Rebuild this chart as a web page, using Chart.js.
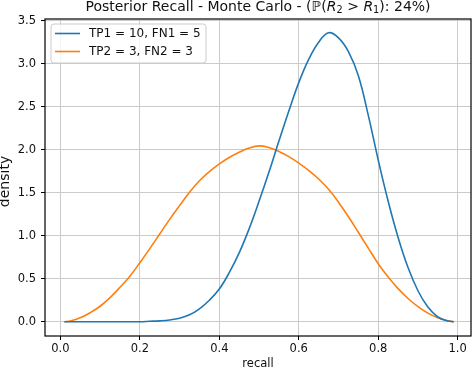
<!DOCTYPE html>
<html><head><meta charset="utf-8">
<script src="https://cdn.jsdelivr.net/npm/chart.js@4/dist/chart.umd.min.js"></script>
<style>html,body{margin:0;padding:0;background:#fff;overflow:hidden}#wrap{width:474px;height:370px;position:relative}</style>
</head><body><div id="wrap"><canvas id="c" width="474" height="370"></canvas></div>
<script>
// ---- data ----
const recall = [0.01,0.025,0.05,0.075,0.10,0.125,0.15,0.175,0.20,0.225,0.25,0.275,0.30,0.325,0.35,0.375,0.40,0.425,0.45,0.475,0.50,0.525,0.55,0.575,0.60,0.625,0.65,0.675,0.70,0.725,0.75,0.775,0.80,0.825,0.85,0.875,0.90,0.925,0.95,0.975,0.99];
const densityTP1 = [0,0,0,0,0,0,0,0,0,0.005,0.01,0.02,0.04,0.08,0.15,0.25,0.38,0.57,0.80,1.08,1.40,1.74,2.10,2.45,2.78,3.05,3.25,3.36,3.30,3.14,2.86,2.40,1.88,1.40,0.98,0.63,0.36,0.17,0.055,0.008,0];
const densityTP2 = [0,0.008,0.045,0.105,0.18,0.28,0.40,0.53,0.685,0.85,1.02,1.19,1.35,1.505,1.64,1.745,1.835,1.91,1.97,2.02,2.045,2.025,1.98,1.92,1.845,1.76,1.66,1.54,1.39,1.22,1.04,0.855,0.675,0.52,0.385,0.27,0.175,0.10,0.045,0.012,0];
const seriesLabels = ['TP1 = 10, FN1 = 5', 'TP2 = 3, FN2 = 3'];
const seriesColors = ['#1f77b4', '#ff7f0e'];
const xTicks = [0.0,0.2,0.4,0.6,0.8,1.0];
const yTicks = [0.0,0.5,1.0,1.5,2.0,2.5,3.0,3.5];
const xLabel = 'recall';
const yLabel = 'density';
// title pieces: [text, style] style: n=normal, i=italic, s=subscript
const titleParts = [['Posterior Recall - Monte Carlo - (','n'],['\u2119','n'],['(','n'],['R','i'],['2','s'],[' > ','n'],['R','i'],['1','s'],['): 24%)','n']];

const FONT = "'DejaVu Sans', sans-serif";

const framePlugin = {
  id: 'frame',
  afterDraw(chart) {
    const {ctx, chartArea: a} = chart;
    ctx.save();
    ctx.strokeStyle = '#000';
    ctx.lineWidth = 1.2;
    ctx.strokeRect(a.left, a.top, a.right - a.left, a.bottom - a.top);

    // legend
    const lx = a.left + 6, ly = a.top + 5, lw = 155, lh = 39, r = 3;
    ctx.beginPath();
    ctx.moveTo(lx + r, ly);
    ctx.arcTo(lx + lw, ly, lx + lw, ly + lh, r);
    ctx.arcTo(lx + lw, ly + lh, lx, ly + lh, r);
    ctx.arcTo(lx, ly + lh, lx, ly, r);
    ctx.arcTo(lx, ly, lx + lw, ly, r);
    ctx.closePath();
    ctx.fillStyle = 'rgba(255,255,255,0.8)';
    ctx.fill();
    ctx.strokeStyle = '#cccccc';
    ctx.lineWidth = 1;
    ctx.stroke();
    chart.data.datasets.forEach((ds, i) => {
      const y = ly + 9.5 + i * 18;
      ctx.strokeStyle = ds.borderColor;
      ctx.lineWidth = 1.6;
      ctx.beginPath();
      ctx.moveTo(lx + 4, y);
      ctx.lineTo(lx + 29, y);
      ctx.stroke();
      ctx.fillStyle = '#111';
      ctx.font = '12px ' + FONT;
      ctx.textBaseline = 'middle';
      ctx.textAlign = 'left';
      ctx.fillText(ds.label, lx + 38, y);
    });

    // title
    const fs = 14;
    const fontFor = s => s === 'i' ? 'oblique ' + fs + 'px ' + FONT : s === 's' ? (fs * 0.7).toFixed(1) + 'px ' + FONT : fs + 'px ' + FONT;
    let total = 0;
    titleParts.forEach(([t, s]) => { ctx.font = fontFor(s); total += ctx.measureText(t).width; });
    let x = (a.left + a.right) / 2 - total / 2;
    const base = 10.5;
    ctx.fillStyle = '#111';
    ctx.textAlign = 'left';
    ctx.textBaseline = 'alphabetic';
    titleParts.forEach(([t, s]) => {
      ctx.font = fontFor(s);
      ctx.fillText(t, x, s === 's' ? base + 2.5 : base);
      x += ctx.measureText(t).width;
    });

    // axis labels
    ctx.font = '11.5px ' + FONT;
    ctx.textAlign = 'center';
    ctx.fillText(xLabel, (a.left + a.right) / 2, 367);
    ctx.save();
    ctx.translate(8.7, (a.top + a.bottom) / 2 + 4);
    ctx.rotate(-Math.PI / 2);
    ctx.font = '14px ' + FONT;
    ctx.textAlign = 'center';
    ctx.textBaseline = 'alphabetic';
    ctx.fillText(yLabel, 0, 0);
    ctx.restore();
    ctx.restore();
  }
};

const mk = arr => recall.map((x, i) => ({x: x, y: arr[i]}));

new Chart(document.getElementById('c'), {
  type: 'line',
  data: {
    datasets: [
      {label: seriesLabels[0], data: mk(densityTP1), borderColor: seriesColors[0], borderWidth: 1.6, pointRadius: 0, tension: 0.4, fill: false},
      {label: seriesLabels[1], data: mk(densityTP2), borderColor: seriesColors[1], borderWidth: 1.6, pointRadius: 0, tension: 0.4, fill: false}
    ]
  },
  options: {
    responsive: false,
    animation: false,
    devicePixelRatio: 1,
    layout: {padding: {top: 19, right: 3, left: 0, bottom: 0}},
    plugins: {legend: {display: false}, title: {display: false}, tooltip: {enabled: false}},
    scales: {
      x: {
        type: 'linear', min: -0.0387, max: 1.0335,
        afterBuildTicks: s => { s.ticks = xTicks.map(v => ({value: v})); },
        afterFit: s => { s.height = 34; },
        border: {display: false},
        grid: {color: '#cbcbcb', lineWidth: 1, drawTicks: true, tickLength: 4, tickColor: '#000', tickWidth: 1},
        ticks: {color: '#111', font: {family: FONT, size: 11.5}, padding: 2, maxRotation: 0, callback: v => v.toFixed(1)}
      },
      y: {
        type: 'linear', min: -0.166, max: 3.52,
        afterBuildTicks: s => { s.ticks = yTicks.map(v => ({value: v})); },
        afterFit: s => { s.width = 45; },
        border: {display: false},
        grid: {color: '#cbcbcb', lineWidth: 1, drawTicks: true, tickLength: 4, tickColor: '#000', tickWidth: 1},
        ticks: {color: '#111', font: {family: FONT, size: 11.5}, padding: 5, callback: v => v.toFixed(1)}
      }
    }
  },
  plugins: [framePlugin]
});
</script>
</body></html>
